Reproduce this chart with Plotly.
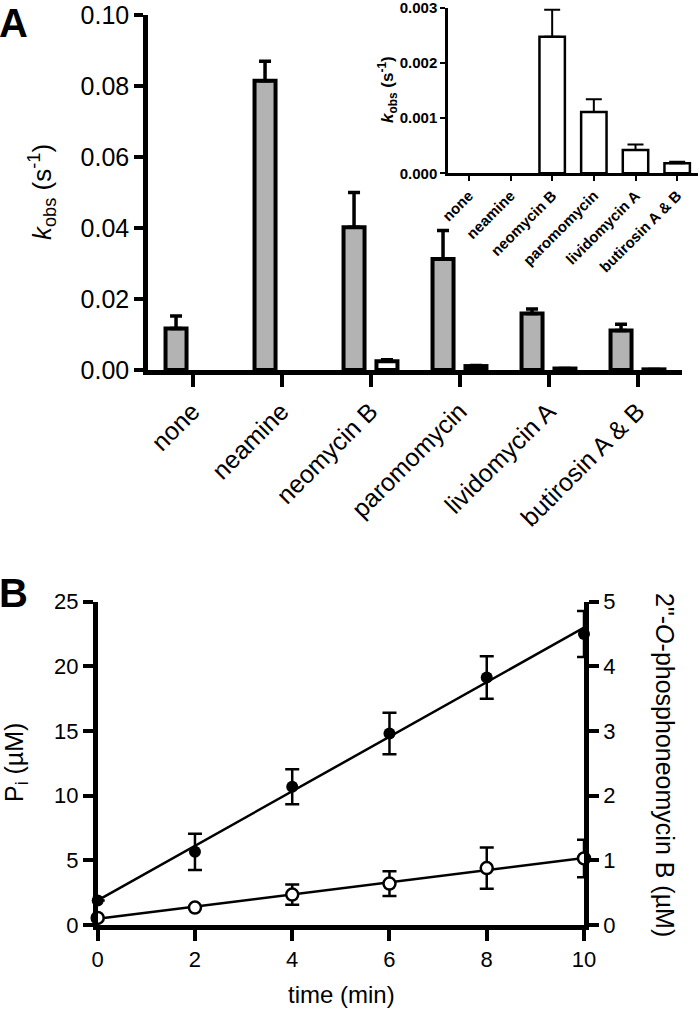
import numpy as np
import plotly.graph_objects as go

# ---------------- data ----------------
categories = ["none", "neamine", "neomycin B", "paromomycin", "lividomycin A", "butirosin A & B"]
k_gray = [0.0117, 0.0815, 0.0402, 0.0313, 0.0159, 0.0111]
k_gray_err = [0.0035, 0.0055, 0.0098, 0.0080, 0.0013, 0.0018]
k_white = [None, None, 0.00247, 0.00111, 0.00042, 0.00018]
k_white_err = [None, None, 0.00049, 0.00023, 0.00010, 0.00003]

y_ticks_main = [0.00, 0.02, 0.04, 0.06, 0.08, 0.10]
y_ticks_inset = [0.000, 0.001, 0.002, 0.003]

time_min = [0, 2, 4, 6, 8, 10]
pi_uM = [1.9, 5.66, 10.69, 14.81, 19.14, 22.5]
pi_err = [None, 1.4, 1.35, 1.6, 1.65, 1.78]
pnb_uM = [0.11, 0.27, 0.47, 0.64, 0.88, 1.03]
pnb_err = [None, None, 0.155, 0.19, 0.32, 0.29]

W, H = 700, 1009
FONT = "Liberation Sans, Arial, Helvetica, sans-serif"


def px_x(p):
    return p / W


def px_y(p):
    return 1 - p / H


fig = go.Figure()

# ---------------- panel A main ----------------
fig.add_trace(go.Bar(
    x=categories, y=k_gray, xaxis="x", yaxis="y",
    width=0.236, offset=-0.303,
    marker=dict(color="#b3b3b3", line=dict(color="black", width=4)),
    error_y=dict(type="data", array=k_gray_err, arrayminus=[0] * 6, symmetric=False,
                 color="black", thickness=3.5, width=6),
    showlegend=False,
))
fig.add_trace(go.Bar(
    x=categories, y=k_white, xaxis="x", yaxis="y",
    width=0.236, offset=0.067,
    marker=dict(color="white", line=dict(color="black", width=4)),
    error_y=dict(type="data", array=k_white_err, arrayminus=[0] * 6, symmetric=False,
                 color="black", thickness=3, width=6),
    showlegend=False,
))

# ---------------- inset ----------------
fig.add_trace(go.Bar(
    x=categories, y=k_white, xaxis="x2", yaxis="y2",
    width=0.61,
    marker=dict(color="white", line=dict(color="black", width=2.5)),
    error_y=dict(type="data", array=k_white_err, arrayminus=[0] * 6, symmetric=False,
                 color="black", thickness=2, width=8),
    showlegend=False,
))

# ---------------- panel B ----------------
t_arr = np.array(time_min, dtype=float)
fit_pi = np.polyfit(t_arr, np.array(pi_uM), 1)
fit_pnb = np.polyfit(t_arr, np.array(pnb_uM), 1)
t_line = np.array([min(time_min), max(time_min)], dtype=float)

fig.add_trace(go.Scatter(
    x=t_line, y=np.polyval(fit_pi, t_line), xaxis="x3", yaxis="y3",
    mode="lines", line=dict(color="black", width=2.5), showlegend=False, cliponaxis=False,
))
fig.add_trace(go.Scatter(
    x=t_line, y=np.polyval(fit_pnb, t_line), xaxis="x3", yaxis="y4",
    mode="lines", line=dict(color="black", width=2.5), showlegend=False, cliponaxis=False,
))
fig.add_trace(go.Scatter(
    x=time_min, y=pi_uM, xaxis="x3", yaxis="y3",
    mode="markers", marker=dict(symbol="circle", size=12, color="black"),
    error_y=dict(type="data", array=pi_err, color="black", thickness=2.5, width=7),
    showlegend=False, cliponaxis=False,
))
fig.add_trace(go.Scatter(
    x=time_min, y=pnb_uM, xaxis="x3", yaxis="y4",
    mode="markers", marker=dict(symbol="circle", size=12, color="white",
                                line=dict(color="black", width=2.5)),
    error_y=dict(type="data", array=pnb_err, color="black", thickness=2.5, width=7),
    showlegend=False, cliponaxis=False,
))

axis_common = dict(showgrid=False, zeroline=False, showline=True, linecolor="black",
                   ticks="outside", tickcolor="black", automargin=False,
                   ticklabeloverflow="allow")

fig.update_layout(
    width=W, height=H, autosize=False,
    margin=dict(l=0, r=0, t=0, b=0, pad=0, autoexpand=False),
    paper_bgcolor="white", plot_bgcolor="rgba(0,0,0,0)",
    font=dict(family=FONT, color="black"),
    barmode="overlay",
    xaxis=dict(axis_common, domain=[px_x(148), px_x(682)], anchor="y",
               type="category", range=[-0.5, 5.5], linewidth=4.5, tickwidth=4, ticklen=12,
               tickangle=-45, tickfont=dict(size=25)),
    yaxis=dict(axis_common, domain=[px_y(370), px_y(15)], anchor="x",
               range=[0, 0.10], tickvals=y_ticks_main, tickformat=".2f",
               linewidth=4.5, tickwidth=4, ticklen=9, tickfont=dict(size=25)),
    xaxis2=dict(axis_common, domain=[px_x(448), px_x(698)], anchor="y2",
                type="category", range=[-0.5, 5.5], linewidth=2.5, tickwidth=2, ticklen=5,
                tickangle=-45, tickfont=dict(size=15, weight="bold")),
    yaxis2=dict(axis_common, domain=[px_y(173.3), px_y(7.5)], anchor="x2",
                range=[0, 0.003], tickvals=y_ticks_inset, tickformat=".3f",
                linewidth=2.5, tickwidth=2, ticklen=5, tickfont=dict(size=15, weight="bold")),
    xaxis3=dict(axis_common, domain=[px_x(97.7), px_x(584)], anchor="y3",
                range=[0, 10], tickvals=time_min, linewidth=4.5, tickwidth=4, ticklen=11,
                tickfont=dict(size=22)),
    yaxis3=dict(axis_common, domain=[px_y(925), px_y(601.7)], anchor="x3",
                range=[0, 25], tickvals=[0, 5, 10, 15, 20, 25], linewidth=4.5, tickwidth=4,
                ticklen=10, tickfont=dict(size=22)),
    yaxis4=dict(axis_common, overlaying="y3", anchor="x3", side="right",
                range=[0, 5], tickvals=[0, 1, 2, 3, 4, 5], linewidth=4.5, tickwidth=4,
                ticklen=10, tickfont=dict(size=22)),
    annotations=[
        dict(text="<b>A</b>", x=px_x(-3), y=px_y(23), xref="paper", yref="paper",
             xanchor="left", yanchor="middle", showarrow=False, font=dict(size=40)),
        dict(text="<b>B</b>", x=px_x(-3), y=px_y(593), xref="paper", yref="paper",
             xanchor="left", yanchor="middle", showarrow=False, font=dict(size=40)),
        dict(text="<i>k</i><sub>obs</sub> (s<sup>-1</sup>)", x=px_x(42), y=px_y(192),
             xref="paper", yref="paper", xanchor="center", yanchor="middle",
             textangle=-90, showarrow=False, font=dict(size=26)),
        dict(text="<b><i>k</i><sub>obs</sub> (s<sup>-1</sup>)</b>", x=px_x(388), y=px_y(90),
             xref="paper", yref="paper", xanchor="center", yanchor="middle",
             textangle=-90, showarrow=False, font=dict(size=17)),
        dict(text="P<sub>i</sub> (µM)", x=px_x(16), y=px_y(763),
             xref="paper", yref="paper", xanchor="center", yanchor="middle",
             textangle=-90, showarrow=False, font=dict(size=25)),
        dict(text="2\"-<i>O</i>-phosphoneomycin B (µM)", x=px_x(665), y=px_y(765),
             xref="paper", yref="paper", xanchor="center", yanchor="middle",
             textangle=90, showarrow=False, font=dict(size=25)),
        dict(text="time (min)", x=px_x(341), y=px_y(994),
             xref="paper", yref="paper", xanchor="center", yanchor="middle",
             showarrow=False, font=dict(size=24)),
    ],
)

fig.write_html("out.html",
               config={"displayModeBar": False},
               post_script="document.body.style.margin='0';document.body.style.padding='0';")
